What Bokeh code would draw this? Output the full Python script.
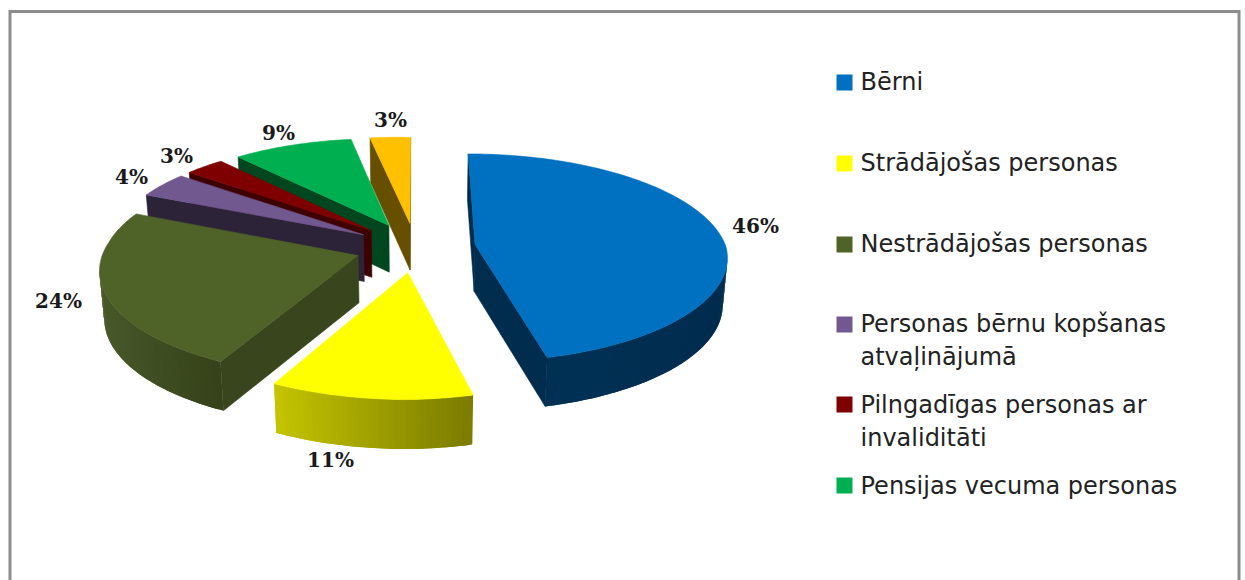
import math
from bokeh.plotting import figure
from bokeh.models import ColumnDataSource, Range1d
from bokeh.core.properties import value
from bokeh.embed import file_html
from bokeh.resources import INLINE

values = [46, 11, 24, 4, 3, 9, 3]
top_colors = ["#0070C0", "#FFFF00", "#4F6228", "#71588F", "#7F0000", "#00B050", "#FFC000"]
wall_colors = ["#002C4E", "#7F7F00", "#39451C", "#2D2338", "#3F0000", "#00461F", "#665000"]
rim_start = ["#002C4E", "#7C7C00", "#36421A", "#2D2338", "#3F0000", "#00461F", "#665000"]
rim_end = ["#003459", "#C6C600", "#48592A", "#2D2338", "#3F0000", "#00461F", "#665000"]
percent_labels = ["46%", "11%", "24%", "4%", "3%", "9%", "3%"]
label_x = [755, 330, 58, 131, 176, 278, 390]
label_y = [225, 459, 300, 176, 155, 132, 119]

legend_colors = ["#0070C0", "#FFFF00", "#4F6228", "#71588F", "#7F0000", "#00B050"]
legend_marks_y = [82, 163, 244, 324, 404, 485]
legend_text = ["Bērni", "Strādājošas personas", "Nestrādājošas personas",
               "Personas bērnu kopšanas", "atvaļinājumā",
               "Pilngadīgas personas ar", "invaliditāti",
               "Pensijas vecuma personas"]
legend_text_y = [81, 162, 243, 323, 356, 404, 437, 485]

CX, CY, A, B, K, E, D, START = 415, 247, 251, 103, 0.13, 0.24, 47, 0.0
SKEW = 8
TILT = 5
BOTTOM_SCALE = 0.985


def project(wx, wy):
    w = 1 + K * wy
    return (CX + A * wx / w - SKEW * max(0.0, -wy),
            CY - B * wy / w + TILT * min(0.0, wx), w)


def lower(pt):
    return CX + (pt[0] - CX) * BOTTOM_SCALE, pt[1] + D * pt[2] ** -0.3


def mix(c1, c2, t):
    a = [int(c1[i:i + 2], 16) for i in (1, 3, 5)]
    b = [int(c2[i:i + 2], 16) for i in (1, 3, 5)]
    return "#%02X%02X%02X" % tuple(round(x + (y - x) * t) for x, y in zip(a, b))


xs, ys, colors, widths = [], [], [], []


def add(poly, color, width=0.6):
    xs.append([q[0] for q in poly])
    ys.append([q[1] for q in poly])
    colors.append(color)
    widths.append(width)


def unit(theta):
    r = math.radians(theta)
    return math.sin(r), math.cos(r)


total = sum(values)
slices = []
ang = START
for i, v in enumerate(values):
    sweep = 360 * v / total
    slices.append((i, ang, ang + sweep))
    ang += sweep

for i, a0, a1 in reversed(slices):
    mx, my = unit((a0 + a1) / 2)
    ox, oy = E * mx, E * my
    apex = project(ox, oy)
    n = max(8, int(a1 - a0))
    arc = []
    for j in range(n + 1):
        ux, uy = unit(a0 + (a1 - a0) * j / n)
        arc.append(project(ox + ux, oy + uy))
    lo_x = min(q[0] for q in arc)
    hi_x = max(q[0] for q in arc)
    # radial walls facing the viewer
    for u, v2 in ((apex, arc[0]), (arc[-1], apex)):
        if v2[0] < u[0]:
            add([u[:2], v2[:2], lower(v2), lower(u)], wall_colors[i])
    # rim, each band overlapping the next one so that no seam shows
    for j in range(n - 1, -1, -1):
        u, v2 = arc[j], arc[j + 1]
        if v2[0] >= u[0]:
            continue
        far = arc[min(j + 2, n)]
        if far[0] >= v2[0]:
            far = v2
        t = (hi_x - (u[0] + v2[0]) / 2) / max(hi_x - lo_x, 1)
        add([u[:2], v2[:2], far[:2], lower(far), lower(v2), lower(u)],
            mix(rim_start[i], rim_end[i], t), 0)
    add([apex[:2]] + [q[:2] for q in arc], top_colors[i])

p = figure(width=1245, height=580, x_range=Range1d(0, 1245), y_range=Range1d(580, 0),
           x_axis_type=None, y_axis_type=None, toolbar_location=None,
           output_backend="svg", min_border=0, outline_line_color=None,
           background_fill_color="white", border_fill_color="white")
p.grid.visible = False

# frame of the picture (open at the foot, where the picture is cut)
p.line([9.5, 9.5, 1238.5, 1238.5], [590, 11, 11, 590], line_color="#8C8C8C", line_width=3,
       line_join="miter")

src = ColumnDataSource(dict(xs=xs, ys=ys, c=colors, w=widths))
p.patches("xs", "ys", source=src, fill_color="c", line_color="c", line_width="w")

p.text(label_x, label_y, text=percent_labels, text_font=value("DejaVu Serif"),
       text_font_style="bold", text_font_size="20px", text_align="center",
       text_baseline="middle", text_color="#1A1A1A")

p.rect([844] * len(legend_marks_y), legend_marks_y, width=16, height=16,
       fill_color=legend_colors, line_color=None)
p.text([860] * len(legend_text), legend_text_y, text=legend_text, text_font=value("DejaVu Sans"),
       text_font_size="24px", text_align="left", text_baseline="middle", text_color="#222222")

open("out.html", "w").write(file_html(p, INLINE))
